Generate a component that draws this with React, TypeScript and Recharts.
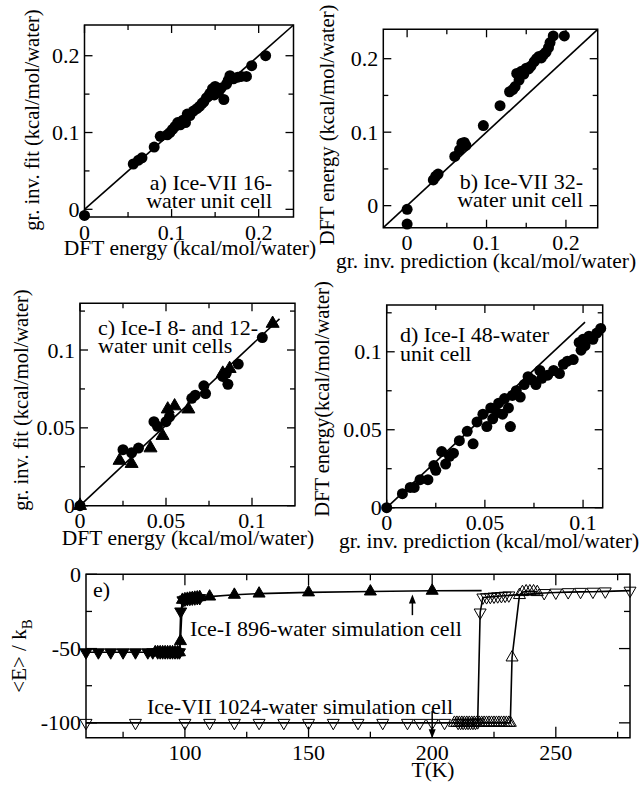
import React from 'react'
import { ScatterChart, Scatter, XAxis, YAxis, ReferenceArea, ReferenceLine, ReferenceDot } from 'recharts'

const W = 642
const H = 788
const FONT = '"Liberation Serif", "Times New Roman", serif'

// a) Ice-VII 16-water: DFT energy vs gr. inv. fit
const aDft = [0, 0.056, 0.062, 0.066, 0.080, 0.087, 0.095, 0.098, 0.101, 0.104, 0.107, 0.110, 0.113, 0.116, 0.118, 0.121, 0.125, 0.129, 0.132, 0.135, 0.137, 0.140, 0.142, 0.144, 0.146, 0.147, 0.149, 0.150, 0.152, 0.153, 0.155, 0.157, 0.160, 0.163, 0.165, 0.167, 0.171, 0.176, 0.180, 0.186, 0.192, 0.208]
const aFit = [-0.008, 0.059, 0.064, 0.067, 0.081, 0.095, 0.097, 0.100, 0.104, 0.108, 0.113, 0.110, 0.116, 0.113, 0.124, 0.122, 0.128, 0.131, 0.134, 0.138, 0.140, 0.145, 0.147, 0.151, 0.152, 0.157, 0.149, 0.160, 0.152, 0.156, 0.155, 0.158, 0.143, 0.163, 0.168, 0.174, 0.170, 0.172, 0.173, 0.173, 0.187, 0.200]
const aDiagX = [0, 0.24]
const aDiagY = [0, 0.24]

// b) Ice-VII 32-water: prediction vs DFT energy
const bPred = [0, 0, 0.033, 0.036, 0.039, 0.060, 0.066, 0.069, 0.072, 0.074, 0.096, 0.117, 0.129, 0.133, 0.136, 0.138, 0.141, 0.144, 0.147, 0.150, 0.153, 0.156, 0.160, 0.163, 0.166, 0.169, 0.172, 0.175, 0.178, 0.180, 0.184, 0.198]
const bDft = [-0.005, -0.025, 0.035, 0.040, 0.043, 0.067, 0.076, 0.085, 0.086, 0.082, 0.109, 0.136, 0.155, 0.158, 0.162, 0.180, 0.171, 0.183, 0.179, 0.187, 0.186, 0.190, 0.196, 0.200, 0.203, 0.201, 0.206, 0.209, 0.215, 0.222, 0.231, 0.231]
const bDiagX = [-0.03, 0.24]
const bDiagY = [-0.03, 0.24]

// c) Ice-I 8- and 12-water cells
const c8Dft = [0, 0.025, 0.030, 0.034, 0.043, 0.045, 0.050, 0.052, 0.065, 0.067, 0.072, 0.073, 0.083, 0.085, 0.086, 0.092, 0.106]
const c8Fit = [0, 0.036, 0.034, 0.037, 0.054, 0.051, 0.054, 0.057, 0.069, 0.071, 0.077, 0.072, 0.083, 0.085, 0.078, 0.091, 0.108]
const c12Dft = [0, 0.023, 0.030, 0.041, 0.048, 0.051, 0.055, 0.063, 0.083, 0.087, 0.112]
const c12Fit = [0, 0.029, 0.027, 0.037, 0.045, 0.062, 0.064, 0.062, 0.085, 0.088, 0.117]
const cDiagX = [0, 0.116]
const cDiagY = [0, 0.12]

// d) Ice-I 48-water cell
const dPred = [0, 0.008, 0.012, 0.014, 0.017, 0.021, 0.024, 0.025, 0.028, 0.030, 0.032, 0.034, 0.037, 0.041, 0.044, 0.046, 0.049, 0.051, 0.053, 0.054, 0.056, 0.057, 0.059, 0.060, 0.062, 0.063, 0.064, 0.066, 0.068, 0.070, 0.072, 0.074, 0.076, 0.078, 0.079, 0.082, 0.085, 0.088, 0.090, 0.092, 0.095, 0.098, 0.099, 0.100, 0.101, 0.103, 0.105, 0.107, 0.109]
const dDft = [0, 0.009, 0.013, 0.013, 0.018, 0.018, 0.027, 0.024, 0.036, 0.028, 0.033, 0.035, 0.043, 0.049, 0.041, 0.055, 0.060, 0.052, 0.064, 0.057, 0.061, 0.067, 0.060, 0.070, 0.064, 0.052, 0.072, 0.075, 0.071, 0.079, 0.084, 0.082, 0.079, 0.088, 0.083, 0.085, 0.088, 0.086, 0.092, 0.094, 0.095, 0.106, 0.101, 0.108, 0.104, 0.110, 0.108, 0.112, 0.115]
const dDiagX = [0, 0.101]
const dDiagY = [0, 0.119]

// e) <E>/kB vs T
const iceICoolT = [106, 105, 104, 103, 102, 101, 100, 99.2, 98.3, 97.8, 97, 96, 95, 94, 93, 92, 91, 90, 89, 87, 85, 80, 75, 70, 65, 60]
const iceICoolE = [-16, -16, -16.2, -16.3, -16.5, -16.7, -17, -17.5, -25, -52.5, -52.5, -52.5, -52.5, -52.5, -52.5, -52.5, -52.5, -52.5, -52.5, -52.5, -52.5, -52.5, -52.5, -52.5, -52.5, -52.5]
const iceIHeatT = [88, 89, 90, 91, 92, 93, 94, 95, 96, 97, 97.8, 98.2, 99, 100, 101, 102, 103, 104, 105, 106, 110, 120, 130, 150, 175, 200]
const iceIHeatE = [-52.5, -52.5, -52.5, -52.5, -52.5, -52.5, -52.5, -52.5, -52.5, -52.5, -52.5, -45, -17.2, -16.8, -16.5, -16.3, -16, -15.8, -15.6, -15.4, -15, -13.8, -13, -12.2, -11.6, -11.1]
const iceITailT = [200, 220]
const iceITailE = [-11.1, -11]
const vCoolT = [280, 270, 265, 260, 255, 250, 245.3, 231, 229.5, 228, 226.5, 225, 223.5, 222, 220.5, 219.4, 218.4, 217.5, 216.5, 215.5, 214.5, 213.5, 212.5, 211.5, 210.5, 205, 200, 195, 190, 180, 170, 160, 150, 140, 130, 120, 110, 100, 80, 60]
const vCoolE = [-11, -11.5, -11.7, -11.8, -12, -12.3, -12.6, -14.2, -14.4, -14.6, -14.8, -15, -15.2, -15.4, -15.6, -25.7, -99.6, -100, -100, -100, -100, -100, -100, -100, -100, -100, -100, -100, -100, -100, -100, -100, -100, -100, -100, -100, -100, -100, -100, -100]
const vHeatT = [209, 210, 211, 212, 213, 214, 215, 216, 217, 218, 219, 220, 221, 222, 223, 224, 225, 226, 227, 228, 229, 230, 231, 231.6, 232.3, 235.3, 236.5, 238, 239.5, 241, 242.5]
const vHeatE = [-100, -100, -100, -100, -100, -100, -100, -100, -100, -100, -100, -100, -100, -100, -100, -100, -100, -100, -100, -100, -100, -100, -100, -100, -56, -14, -12, -11.5, -11.5, -11.5, -12]

const pts = (xs: number[], ys: number[]) => xs.map((x, i) => ({ x, y: ys[i] }))

const dot = (r: number) => (p: any) => <circle cx={p.cx} cy={p.cy} r={r} fill="#000" />
const tri = (s: number, up: boolean, filled: boolean) => (p: any) => {
  const h = s * 1.732
  const k = up ? 1 : -1
  const d = `M${p.cx},${p.cy - (k * 2 * h) / 3}L${p.cx - s},${p.cy + (k * h) / 3}L${p.cx + s},${p.cy + (k * h) / 3}Z`
  return <path d={d} fill={filled ? '#000' : 'none'} stroke="#000" strokeWidth={1} />
}
const none = () => <g />
const LINE = { stroke: '#000', strokeWidth: 1.6 }

type Frame = { l: number; t: number; r: number; b: number }

function Panel(props: {
  frame: Frame
  xDomain: number[]
  yDomain: number[]
  xTicks: number[]
  yTicks: number[]
  xMajor: number[]
  yMajor: number[]
  tickLen?: number[]
  children: React.ReactNode
}) {
  const { frame, xDomain, yDomain, xTicks, yTicks, xMajor, yMajor } = props
  const [majLen, minLen] = props.tickLen || [8, 5]
  const XTick = (p: any) => {
    const v = p.payload.value
    const major = xMajor.includes(v)
    const len = major ? majLen : minLen
    return (
      <g>
        <line x1={p.x} x2={p.x} y1={frame.b} y2={frame.b - len} stroke="#000" strokeWidth={1.3} />
        <line x1={p.x} x2={p.x} y1={frame.t} y2={frame.t + len} stroke="#000" strokeWidth={1.3} />
        {major && (
          <text x={p.x} y={frame.b + 22.5} textAnchor="middle" fontSize={22} fontFamily={FONT} fill="#000">
            {String(v)}
          </text>
        )}
      </g>
    )
  }
  const YTick = (p: any) => {
    const v = p.payload.value
    const major = yMajor.includes(v)
    const len = major ? majLen : minLen
    return (
      <g>
        <line x1={frame.l} x2={frame.l + len} y1={p.y} y2={p.y} stroke="#000" strokeWidth={1.3} />
        <line x1={frame.r} x2={frame.r - len} y1={p.y} y2={p.y} stroke="#000" strokeWidth={1.3} />
        {major && (
          <text x={frame.l - 5} y={p.y + 7.5} textAnchor="end" fontSize={22} fontFamily={FONT} fill="#000">
            {String(v)}
          </text>
        )}
      </g>
    )
  }
  // axes get 1px so recharts still draws their ticks
  return (
    <div style={{ position: 'absolute', left: 0, top: 0 }}>
      <ScatterChart
        width={W}
        height={H}
        margin={{ top: frame.t, left: frame.l - 1, right: W - frame.r, bottom: H - frame.b - 1 }}
      >
        <XAxis type="number" dataKey="x" domain={xDomain} ticks={xTicks} interval={0} height={1} axisLine={false} tickLine={false} tick={XTick} />
        <YAxis type="number" dataKey="y" domain={yDomain} ticks={yTicks} interval={0} width={1} axisLine={false} tickLine={false} tick={YTick} />
        <ReferenceArea x1={xDomain[0]} x2={xDomain[1]} y1={yDomain[0]} y2={yDomain[1]} fill="none" fillOpacity={0} stroke="#000" strokeWidth={1.5} />
        {props.children}
      </ScatterChart>
    </div>
  )
}

const arrowHead = (up: boolean) => (p: any) => {
  const k = up ? -1 : 1
  const d = `M${p.cx},${p.cy + k * 5}L${p.cx - 3.5},${p.cy - k * 4}L${p.cx + 3.5},${p.cy - k * 4}Z`
  return <path d={d} fill="#000" />
}

type T = { x: number; y: number; s: React.ReactNode; a?: 'start' | 'middle' | 'end'; rot?: boolean; fs?: number }
const labels: T[] = [
  { x: 190, y: 255, s: 'DFT energy (kcal/mol/water)', a: 'middle', fs: 21.5 },
  { x: 39, y: 120, s: 'gr. inv. fit (kcal/mol/water)', a: 'middle', rot: true, fs: 20.5 },
  { x: 486, y: 268, s: 'gr. inv. prediction (kcal/mol/water)', a: 'middle', fs: 21.5 },
  { x: 334, y: 125, s: 'DFT energy (kcal/mol/water)', a: 'middle', rot: true, fs: 20.5 },
  { x: 188, y: 545, s: 'DFT energy (kcal/mol/water)', a: 'middle', fs: 21.5 },
  { x: 28, y: 400, s: 'gr. inv. fit (kcal/mol/water)', a: 'middle', rot: true, fs: 20.5 },
  { x: 489, y: 548, s: 'gr. inv. prediction (kcal/mol/water)', a: 'middle', fs: 21.5 },
  { x: 329, y: 399, s: 'DFT energy(kcal/mol/water)', a: 'middle', rot: true, fs: 20.5 },
  { x: 433, y: 777, s: 'T(K)', a: 'middle', fs: 21.5 },
  { x: 272, y: 190, s: 'a) Ice-VII 16-', a: 'end' },
  { x: 272, y: 208, s: 'water unit cell', a: 'end' },
  { x: 583, y: 189, s: 'b) Ice-VII 32-', a: 'end' },
  { x: 583, y: 207, s: 'water unit cell', a: 'end' },
  { x: 98, y: 335, s: 'c) Ice-I 8- and 12-' },
  { x: 98, y: 353, s: 'water unit cells' },
  { x: 400, y: 342, s: 'd) Ice-I 48-water' },
  { x: 400, y: 361, s: 'unit cell' },
  { x: 93, y: 597, s: 'e)' },
  { x: 190, y: 636, s: 'Ice-I 896-water simulation cell' },
  { x: 147, y: 714, s: 'Ice-VII 1024-water simulation cell' },
]

export default function App() {
  return (
    <div style={{ position: 'absolute', left: 0, top: 0, width: W, height: H, background: '#fff' }}>
      <Panel frame={{ l: 84.5, t: 25, r: 293.5, b: 217 }} xDomain={[0, 0.24]} yDomain={[-0.01, 0.24]}
        xTicks={[0, 0.05, 0.1, 0.15, 0.2]} yTicks={[0, 0.05, 0.1, 0.15, 0.2]} xMajor={[0, 0.1, 0.2]} yMajor={[0, 0.1, 0.2]}>
        <Scatter data={pts(aDiagX, aDiagY)} line={LINE} shape={none} isAnimationActive={false} />
        <Scatter data={pts(aDft, aFit)} shape={dot(5.5)} isAnimationActive={false} />
      </Panel>
      <Panel frame={{ l: 383.3, t: 29.3, r: 597.7, b: 227.7 }} xDomain={[-0.03, 0.24]} yDomain={[-0.03, 0.24]}
        xTicks={[0, 0.05, 0.1, 0.15, 0.2]} yTicks={[0, 0.05, 0.1, 0.15, 0.2]} xMajor={[0, 0.1, 0.2]} yMajor={[0, 0.1, 0.2]}>
        <Scatter data={pts(bDiagX, bDiagY)} line={LINE} shape={none} isAnimationActive={false} />
        <Scatter data={pts(bPred, bDft)} shape={dot(5.5)} isAnimationActive={false} />
      </Panel>
      <Panel frame={{ l: 80, t: 303.3, r: 295, b: 505.7 }} xDomain={[0, 0.125]} yDomain={[0, 0.13]}
        xTicks={[0, 0.025, 0.05, 0.075, 0.1]} yTicks={[0, 0.025, 0.05, 0.075, 0.1, 0.125]} xMajor={[0, 0.05, 0.1]} yMajor={[0, 0.05, 0.1]}>
        <Scatter data={pts(cDiagX, cDiagY)} line={LINE} shape={none} isAnimationActive={false} />
        <Scatter data={pts(c8Dft, c8Fit)} shape={dot(5.5)} isAnimationActive={false} />
        <Scatter data={pts(c12Dft, c12Fit)} shape={tri(6.5, true, true)} isAnimationActive={false} />
      </Panel>
      <Panel frame={{ l: 386.7, t: 305, r: 602.7, b: 507.7 }} xDomain={[0, 0.11]} yDomain={[0, 0.13]}
        xTicks={[0, 0.025, 0.05, 0.075, 0.1]} yTicks={[0, 0.025, 0.05, 0.075, 0.1, 0.125]} xMajor={[0, 0.05, 0.1]} yMajor={[0, 0.05, 0.1]}>
        <Scatter data={pts(dDiagX, dDiagY)} line={LINE} shape={none} isAnimationActive={false} />
        <Scatter data={pts(dPred, dDft)} shape={dot(5.5)} isAnimationActive={false} />
      </Panel>
      <Panel frame={{ l: 86, t: 574.3, r: 630, b: 737.7 }} xDomain={[60, 280]} yDomain={[-110, 0]} tickLen={[11, 6]}
        xTicks={[75, 100, 125, 150, 175, 200, 225, 250, 275]} yTicks={[-100, -75, -50, -25, 0]} xMajor={[100, 150, 200, 250]} yMajor={[-100, -50, 0]}>
        <Scatter data={pts(vCoolT, vCoolE)} line={LINE} shape={tri(6, false, false)} isAnimationActive={false} />
        <Scatter data={pts(vHeatT, vHeatE)} line={LINE} shape={tri(6, true, false)} isAnimationActive={false} />
        <Scatter data={pts(iceITailT, iceITailE)} line={LINE} shape={none} isAnimationActive={false} />
        <Scatter data={pts(iceICoolT, iceICoolE)} line={LINE} shape={tri(6, false, true)} isAnimationActive={false} />
        <Scatter data={pts(iceIHeatT, iceIHeatE)} line={LINE} shape={tri(6, true, true)} isAnimationActive={false} />
        <ReferenceLine segment={[{ x: 192, y: -27.5 }, { x: 192, y: -18 }]} stroke="#000" strokeWidth={1.5} />
        <ReferenceDot x={192} y={-17} r={0} shape={arrowHead(true)} />
        <ReferenceLine segment={[{ x: 200, y: -92 }, { x: 200, y: -106 }]} stroke="#000" strokeWidth={1.5} />
        <ReferenceDot x={200} y={-107} r={0} shape={arrowHead(false)} />
      </Panel>
      <svg width={W} height={H} style={{ position: 'absolute', left: 0, top: 0 }}>
        {labels.map((t, i) => (
          <text key={i} x={t.x} y={t.y} textAnchor={t.a || 'start'} fontSize={t.fs || 22} fontFamily={FONT} fill="#000"
            transform={t.rot ? `rotate(-90 ${t.x} ${t.y})` : undefined}>
            {t.s}
          </text>
        ))}
        <text x={26} y={656} textAnchor="middle" fontSize={21} fontFamily={FONT} fill="#000" transform="rotate(-90 26 656)">
          {'<E> / k'}
          <tspan dy={6} fontSize={15}>B</tspan>
        </text>
      </svg>
    </div>
  )
}
